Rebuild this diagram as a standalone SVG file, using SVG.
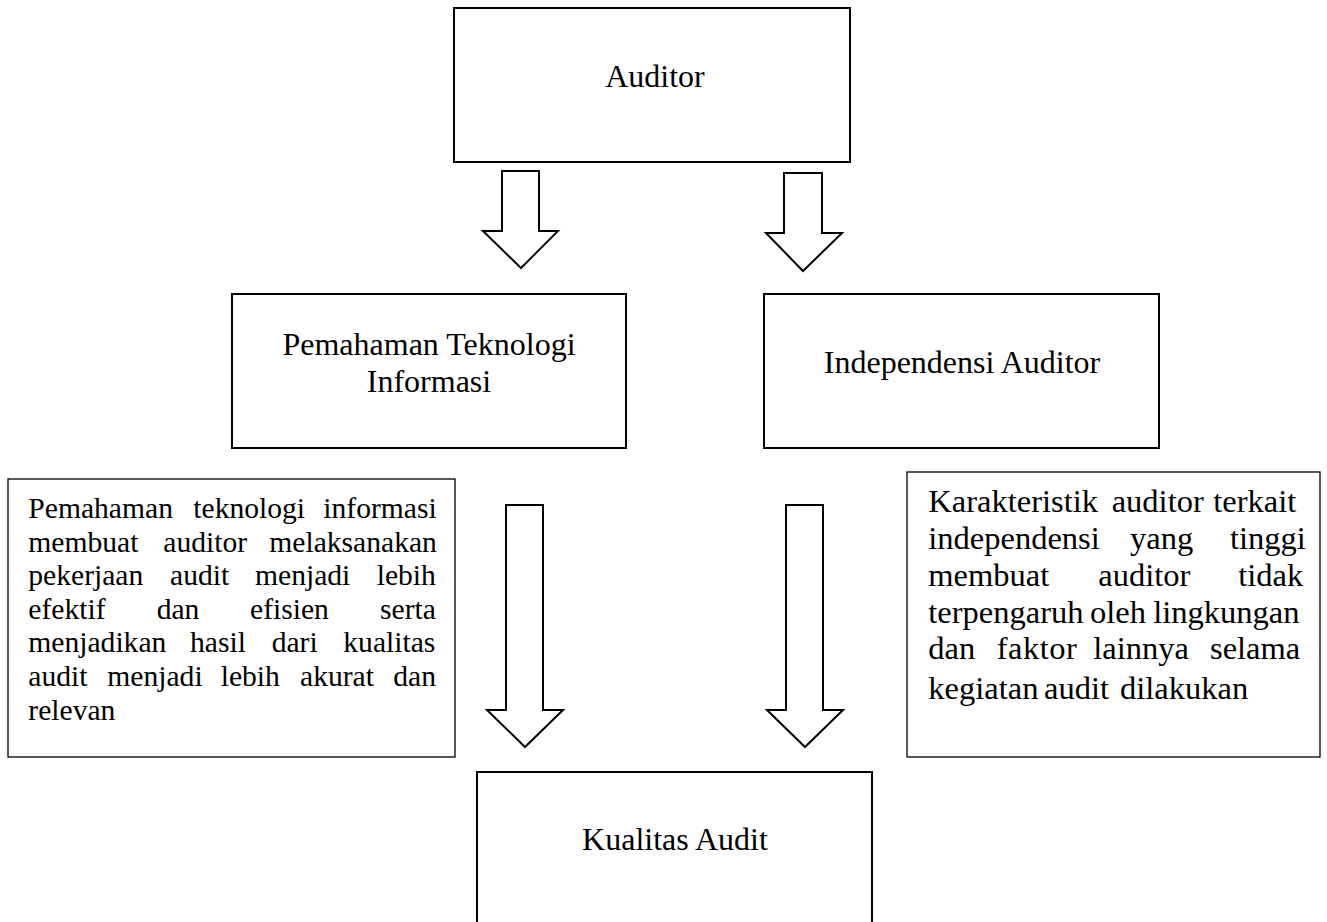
<svg xmlns="http://www.w3.org/2000/svg" width="1327" height="922" viewBox="0 0 1327 922">
<style>
.box{fill:#fff;stroke:#000;stroke-width:2}
.note{fill:#fff;stroke:#000;stroke-width:1.3}
.arrow{fill:#fff;stroke:#000;stroke-width:2;stroke-linejoin:miter}
.h{font-family:"Liberation Serif","Times New Roman",serif;font-size:32px;fill:#000;text-anchor:middle}
.pl{font-family:"Liberation Serif","Times New Roman",serif;font-size:29.6px;fill:#000}
.pr{font-family:"Liberation Serif","Times New Roman",serif;font-size:32.5px;fill:#000}
</style>
<rect width="1327" height="922" fill="#fff"/>
<g id="connectors">
<polygon class="arrow" points="502,171 539,171 539,231 558,231 521,268 483,231 502,231"/>
<polygon class="arrow" points="784,173 822,173 822,233 842,233 803,271 766,233 784,233"/>
<polygon class="arrow" points="506,505 543,505 543,710 563,710 525,747 487,710 506,710"/>
<polygon class="arrow" points="786,505 823,505 823,710 843,710 805,747 767,710 786,710"/>
</g>
<g id="auditor">
<rect class="box" x="454" y="8" width="396" height="154"/>
<text class="h" x="655" y="87">Auditor</text>
</g>
<g id="pemahaman">
<rect class="box" x="232" y="294" width="394" height="154"/>
<text class="h" x="429" y="355">Pemahaman Teknologi</text>
<text class="h" x="429" y="392">Informasi</text>
</g>
<g id="independensi">
<rect class="box" x="764" y="294" width="395" height="154"/>
<text class="h" x="962" y="373">Independensi Auditor</text>
</g>
<g id="kualitas">
<rect class="box" x="477" y="772" width="395" height="160"/>
<text class="h" x="675" y="850">Kualitas Audit</text>
</g>
<g id="note-left">
<rect class="note" x="8" y="479" width="447" height="278"/>
<text class="pl" y="518"><tspan x="28.3">Pemahaman</tspan><tspan x="193.3">teknologi</tspan><tspan x="323.3">informasi</tspan></text>
<text class="pl" y="551.6"><tspan x="28.3">membuat</tspan><tspan x="163.3">auditor</tspan><tspan x="269.3">melaksanakan</tspan></text>
<text class="pl" y="585.2"><tspan x="28.3">pekerjaan</tspan><tspan x="170">audit</tspan><tspan x="255">menjadi</tspan><tspan x="376.7">lebih</tspan></text>
<text class="pl" y="618.8"><tspan x="28.3">efektif</tspan><tspan x="156.7">dan</tspan><tspan x="250">efisien</tspan><tspan x="380">serta</tspan></text>
<text class="pl" y="652.4"><tspan x="28.3">menjadikan</tspan><tspan x="190">hasil</tspan><tspan x="271.7">dari</tspan><tspan x="343.3">kualitas</tspan></text>
<text class="pl" y="686"><tspan x="28.3">audit</tspan><tspan x="107.3">menjadi</tspan><tspan x="220.7">lebih</tspan><tspan x="300">akurat</tspan><tspan x="393.3">dan</tspan></text>
<text class="pl" x="28.3" y="719.6">relevan</text>
</g>
<g id="note-right">
<rect class="note" x="907" y="472" width="413" height="285"/>
<text class="pr" y="512.3"><tspan x="928.3">Karakteristik</tspan><tspan x="1111.7">auditor</tspan><tspan x="1213.3">terkait</tspan></text>
<text class="pr" y="549.3"><tspan x="928.3">independensi</tspan><tspan x="1130">yang</tspan><tspan x="1230">tinggi</tspan></text>
<text class="pr" y="586"><tspan x="928.3">membuat</tspan><tspan x="1098.3">auditor</tspan><tspan x="1238.3">tidak</tspan></text>
<text class="pr" y="622.7"><tspan x="928.3">terpengaruh</tspan><tspan x="1090">oleh</tspan><tspan x="1153.3">lingkungan</tspan></text>
<text class="pr" y="659.3"><tspan x="928.3">dan</tspan><tspan x="996.7" letter-spacing="0.5">faktor</tspan><tspan x="1093.3">lainnya</tspan><tspan x="1210">selama</tspan></text>
<text class="pr" y="699.3"><tspan x="928.3">kegiatan</tspan><tspan x="1044">audit</tspan><tspan x="1120">dilakukan</tspan></text>
</g>
</svg>
